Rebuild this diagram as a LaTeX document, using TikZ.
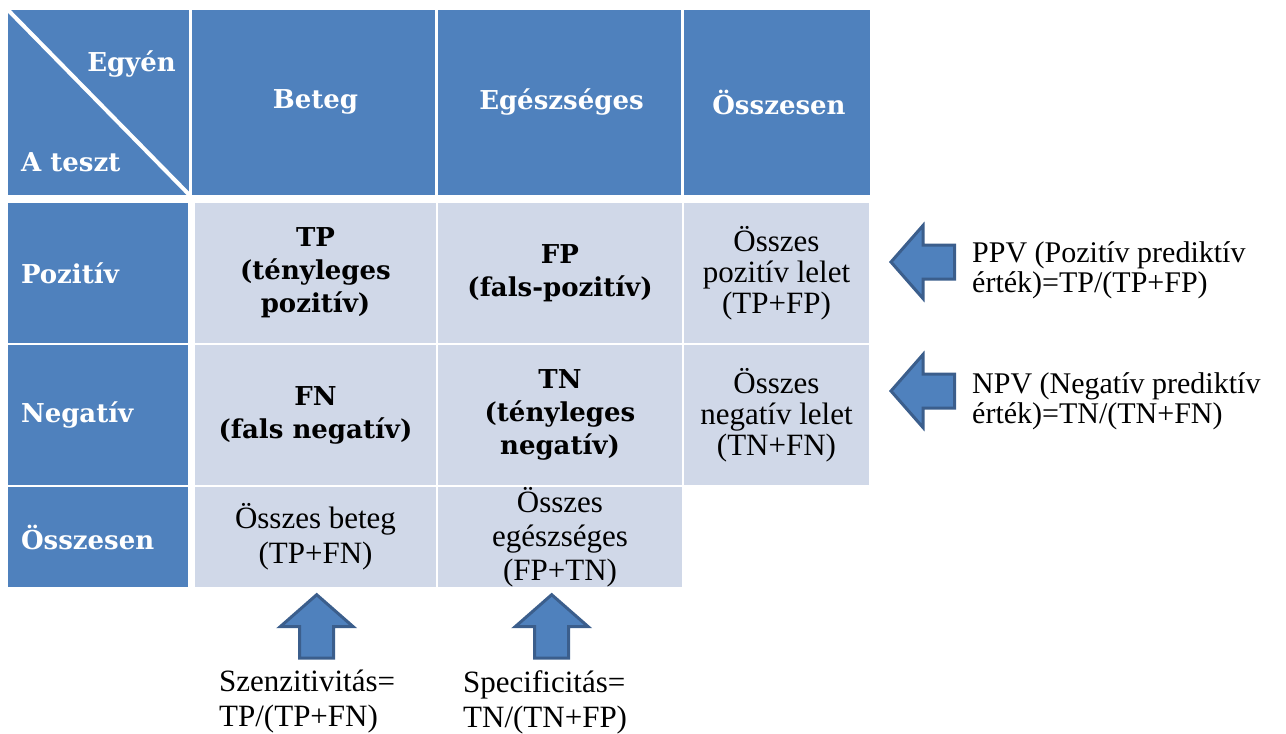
\documentclass[tikz,border=0pt]{standalone}
\usepackage{fontspec}
\setmainfont{DejaVu Serif}
\newfontfamily\plainserif{Liberation Serif}
\definecolor{hdr}{HTML}{4F81BD}
\definecolor{lightcell}{HTML}{D0D8E8}
\definecolor{arrowedge}{HTML}{3B5E8C}
\tikzset{
  hcell/.style={fill=hdr, text=white, inner sep=0pt, align=center,
    font=\fontsize{26}{31}\selectfont\bfseries},
  rowhead/.style={hcell, align=left, inner xsep=13pt},
  boldcell/.style={fill=lightcell, text=black, inner sep=0pt, align=center,
    font=\fontsize{26}{33}\selectfont\bfseries},
  sumcell/.style={fill=lightcell, text=black, inner sep=0pt, align=center,
    font=\plainserif\fontsize{31}{31}\selectfont},
  note/.style={inner sep=0pt, align=left, anchor=west,
    font=\plainserif\fontsize{30}{30}\selectfont},
  blockarrow/.style={fill=hdr, draw=arrowedge, line width=3pt, line join=miter},
  leftarrow/.pic={
    \path[blockarrow] (2,0) -- (34,-36.5) -- (34,-17) -- (65.5,-17)
      -- (65.5,17) -- (34,17) -- (34,36.5) -- cycle;
  }
}
\begin{document}
\begin{tikzpicture}[x=1pt, y=-1pt]
\useasboundingbox (0,0) rectangle (1286,734);

% header row
\node[hcell, minimum width=181pt, minimum height=184.5pt] (corner) at (98.5,102.25) {};
\draw[white, line width=4pt] (corner.north west) -- (corner.south east);
\node[text=white, inner sep=0pt, anchor=base east,
  font=\fontsize{26}{31}\selectfont\bfseries] (egyen) at (176,71) {Egyén};
\node[text=white, inner sep=0pt, anchor=base west,
  font=\fontsize{26}{31}\selectfont\bfseries] (ateszt) at (21,171) {A teszt};
\node[hcell, minimum width=243pt, minimum height=184.5pt] (beteg) at (313.5,102.25) {\hspace*{4pt}Beteg};
\node[hcell, minimum width=243pt, minimum height=184.5pt] (egeszseges) at (559.5,102.25) {\hspace*{4pt}Egészséges};
\node[hcell, minimum width=186pt, minimum height=184.5pt] (osszesen) at (777,102.25) {\hspace*{4pt}Összesen};

% row headers
\node[rowhead, minimum width=179.5pt, text width=153.5pt, minimum height=140pt] (pozitiv) at (97.75,273) {Pozitív};
\node[rowhead, minimum width=179.5pt, text width=153.5pt, minimum height=140pt] (negativ) at (97.75,415) {Negatív};
\node[rowhead, minimum width=179.5pt, text width=153.5pt, minimum height=100pt] (osszrow) at (97.75,537) {Összesen};

% body cells
\node[boldcell, minimum width=241pt, minimum height=140pt] (tp) at (315.5,273) {TP\\(tényleges\\pozitív)};
\node[boldcell, minimum width=244pt, minimum height=140pt] (fp) at (560,273) {FP\\(fals-pozitív)};
\node[boldcell, minimum width=241pt, minimum height=140pt] (fn) at (315.5,415) {FN\\(fals negatív)};
\node[boldcell, minimum width=244pt, minimum height=140pt] (tn) at (560,415) {TN\\(tényleges\\negatív)};
\node[sumcell, minimum width=185pt, minimum height=140pt] (allpos) at (776.5,273) {Összes\\pozitív lelet\\(TP+FP)};
\node[sumcell, minimum width=185pt, minimum height=140pt] (allneg) at (776.5,415) {Összes\\negatív lelet\\(TN+FN)};
\node[sumcell, font=\plainserif\fontsize{31}{35}\selectfont, minimum width=241pt, minimum height=100pt] (allsick) at (315.5,537) {Összes beteg\\(TP+FN)};
\node[sumcell, font=\plainserif\fontsize{31}{34}\selectfont, minimum width=244pt, minimum height=100pt] (allhealthy) at (560,537) {Összes\\egészséges\\(FP+TN)};

% block arrows
\pic at (889,262) {leftarrow};
\pic at (889,391) {leftarrow};
\pic[rotate=-90] at (316.7,592.7) {leftarrow};
\pic[rotate=-90] at (551.7,592.7) {leftarrow};

% formulas
\node[note] (ppv) at (972,270) {PPV (Pozitív prediktív\\érték)=TP/(TP+FP)};
\node[note] (npv) at (972,401) {NPV (Negatív prediktív\\érték)=TN/(TN+FN)};
\node[note, font=\plainserif\fontsize{31}{35}\selectfont] (szenz) at (219,702) {Szenzitivitás=\\TP/(TP+FN)};
\node[note, font=\plainserif\fontsize{31}{35}\selectfont] (spec) at (463,702) {Specificitás=\\TN/(TN+FP)};
\end{tikzpicture}
\end{document}
